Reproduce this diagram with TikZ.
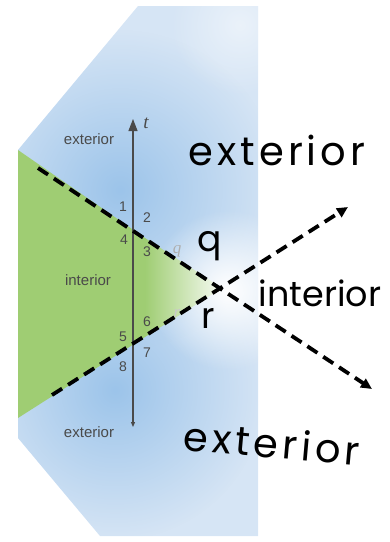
\documentclass[tikz,border=0pt]{standalone}
\usepackage{fontspec}
\usetikzlibrary{arrows.meta,positioning,fadings}
\newfontfamily\bookfont{Liberation Sans}
\newfontfamily\serifit{Liberation Serif}
\newfontfamily\handfont[LetterSpace=10]{Poppins}
\newfontfamily\handtight{Poppins}
\definecolor{skyc}{HTML}{9CC4EA}
\definecolor{skyl}{HTML}{D6E5F5}
\definecolor{leafc}{HTML}{9FCD73}
\definecolor{inkc}{HTML}{4A4A4A}
\tikzfading[name=glow,inner color=transparent!0,outer color=transparent!100]
\tikzset{
  dl/.style={line width=3.8pt,dash pattern=on 12pt off 7pt,-{Triangle[length=11pt,width=10pt]}},
  tl/.style={inkc,line width=1.1pt,{Triangle[length=5pt,width=4pt]}-{Triangle[length=12pt,width=9pt]}},
  sm/.style={font=\bookfont\fontsize{15}{15}\selectfont,text=inkc},
  num/.style={font=\bookfont\fontsize{14}{14}\selectfont,text=inkc,inner sep=0pt},
  hw/.style={font=\handfont\fontsize{40}{40}\selectfont,inner sep=0pt}
}
\begin{document}
\begin{tikzpicture}[x=1pt,y=-1pt]
\useasboundingbox (0,0) rectangle (390,542);
% backdrop
\fill[skyl] (138,6) -- (258,6) -- (258,536) -- (100,536) -- (18,438) -- (18,150) -- cycle;
\begin{scope}
\clip (138,6) -- (258,6) -- (258,536) -- (100,536) -- (18,438) -- (18,150) -- cycle;
\fill[skyc,path fading=glow] (120,190) circle (160);
\fill[skyc,path fading=glow] (115,390) circle (150);
\fill[white,path fading=glow] (228,290) circle (80);
\fill[white,opacity=0.5,path fading=glow] (240,25) circle (70);
\end{scope}
\fill[leafc] (18,150) -- (18,418) -- (145,337) -- (145,238) -- cycle;
\shade[left color=leafc,right color=leafc!8] (145,238) -- (145,337) -- (222,288) -- cycle;
% transversal t
\coordinate (tt) at (133,119);
\coordinate (tb) at (133,427);
\draw[tl] (tb) -- (tt);
\node[font=\serifit\itshape\fontsize{19}{19}\selectfont,text=inkc] (tlab) at (146,123) {t};
% lines q and r
\coordinate (qs) at (38,168);
\coordinate (qe) at (372,389);
\coordinate (rs) at (52,395);
\coordinate (re) at (348,207);
\node[font=\serifit\itshape\fontsize{17}{17}\selectfont,text=inkc!45] (qf) at (177,251) {q};
\node[font=\serifit\itshape\fontsize{17}{17}\selectfont,text=inkc!30] (rf) at (177,313) {r};
\draw[dl] (qs) -- (qe);
\draw[dl] (rs) -- (re);
% angle numbers
\node[num] (n1) at (123,207) {1};
\node[num] (n2) at (147,218) {2};
\node[num] (n4) at (124,240) {4};
\node[num] (n3) at (147,252) {3};
\node[num] (n6) at (147,322) {6};
\node[num] (n5) at (123,337) {5};
\node[num] (n7) at (147,353) {7};
\node[num] (n8) at (123,367) {8};
% region labels
\node[sm] (ext1) at (89,139) {exterior};
\node[sm] (int1) at (88,280) {interior};
\node[sm] (ext2) at (89,432) {exterior};
% handwriting
\node[hw] (hext1) at (277,150) {exterior};
\node[hw,font=\handtight\fontsize{35}{35}\selectfont] (hint) at (320,293) {interior};
\node[hw,rotate=-5] (hext2) at (272,443) {exterior};
\node[hw,font=\handtight\fontsize{36}{36}\selectfont] (hq) at (210,246) {q};
\node[hw,font=\handtight\fontsize{36}{36}\selectfont] (hr) at (208,318) {r};
\end{tikzpicture}
\end{document}
